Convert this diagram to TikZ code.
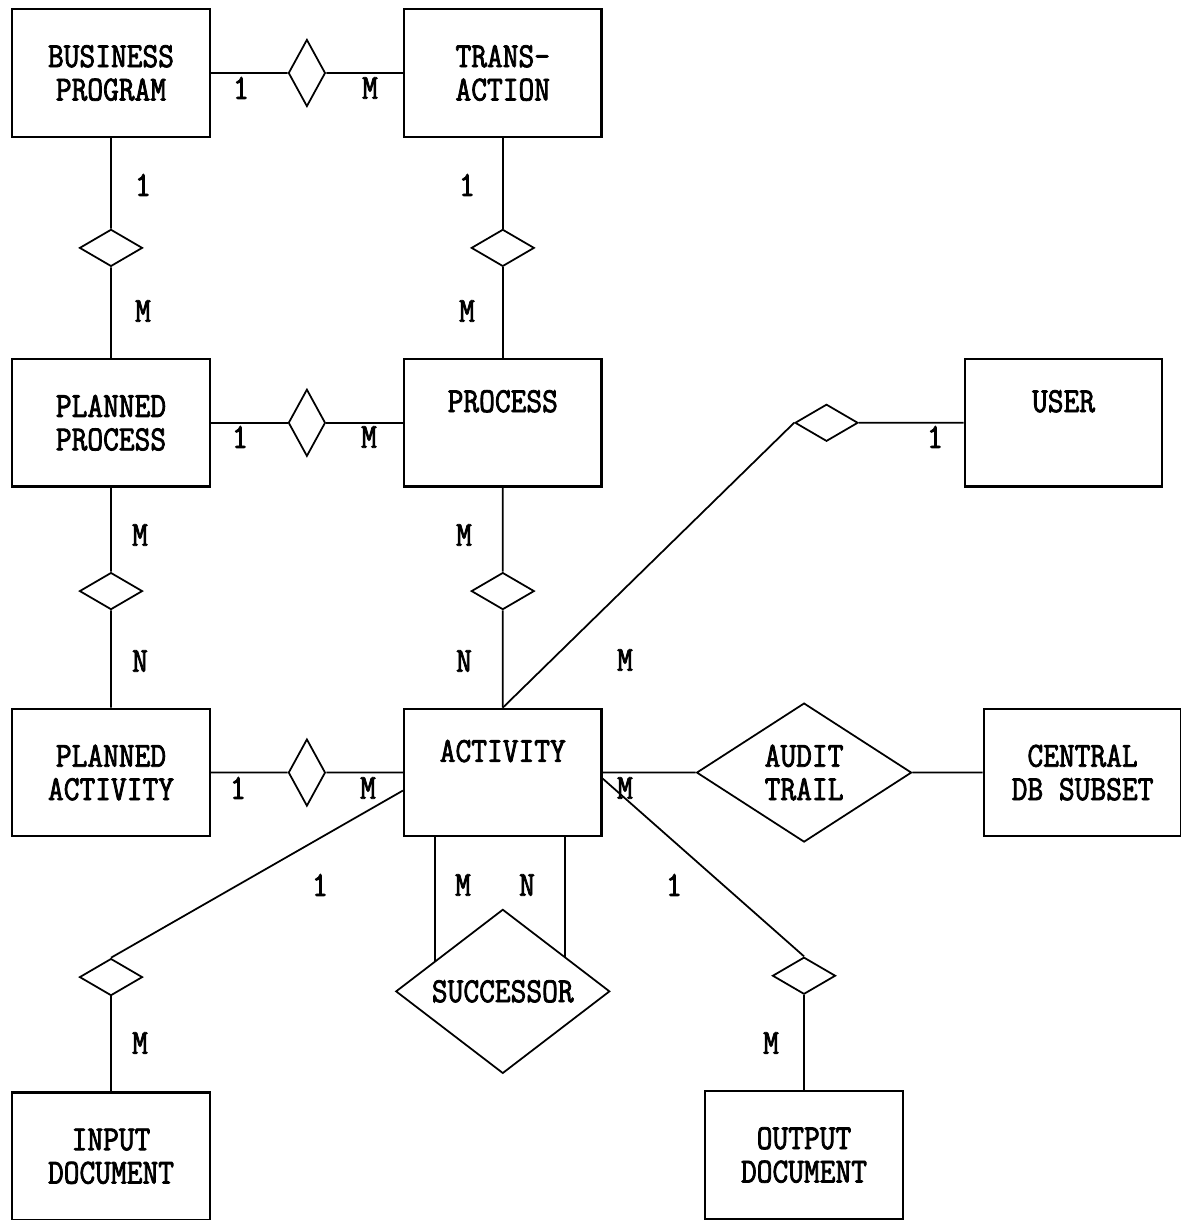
\documentclass[tikz,border=0pt]{standalone}
\usepackage{fontspec}
\newfontfamily\typefont[FakeStretch=0.87, FakeBold=2.2]{Latin Modern Mono}
\usetikzlibrary{positioning,shapes.geometric,calc}

\begin{document}
\begin{tikzpicture}[%
		line width=1pt,
		node distance=4.4cm,
		entity/.style={%
			draw,
			line width=1.3pt,
			minimum width=3.95cm,
			minimum height=2.55cm,
			align=center,
			font=\typefont\fontsize{20}{19}\selectfont
		},
		rel/.style={%
			draw,
			diamond,
			inner sep=0pt,
			align=center,
			font=\typefont\fontsize{20}{19}\selectfont
		},
		relh/.style={rel, minimum width=0.74cm, minimum height=1.34cm},
		relv/.style={rel, minimum width=1.26cm, minimum height=0.74cm},
		card/.style={font=\typefont\fontsize{20}{19}\selectfont}
		]
		\useasboundingbox (0,0) rectangle (23.6,-24.4);

		\node[entity] (bp) at (2.22,-1.46)                    {BUSINESS\\PROGRAM};
		\node[entity] (tr) [right=3.84cm of bp]               {TRANS-\\ACTION};
		\node[entity] (pp) [below=of bp]                      {PLANNED\\PROCESS};
		\node[entity] (pr) [below=of tr]                      {PROCESS\\\strut};
		\node[entity] (user) [right=7.22cm of pr]             {USER\\\strut};
		\node[entity] (pa) [below=of pp]                      {PLANNED\\ACTIVITY};
		\node[entity] (act) [below=of pr]                     {ACTIVITY\\\strut};
		\node[entity] (cdb) [right=7.6cm of act]              {CENTRAL\\DB SUBSET};
		\node[entity] (in) [below=5.08cm of pa]               {INPUT\\DOCUMENT};
		\node[entity] (out) at (16.08,-23.1)                  {OUTPUT\\DOCUMENT};

		% relationships
		\node[relh] (r1) at ($(bp.east)!0.5!(tr.west)$)       {};
		\node[relv] (r2) at ($(bp.south)!0.5!(pp.north)$)    {};
		\node[relv] (r3) at ($(tr.south)!0.5!(pr.north)$)    {};
		\node[relh] (r4) at ($(pp.east)!0.5!(pr.west)$)       {};
		\node[relv] (r5) at ($(pp.south)!0.47!(pa.north)$)   {};
		\node[relv] (r6) at ($(pr.south)!0.47!(act.north)$)  {};
		\node[relh] (r7) at ($(pa.east)!0.5!(act.west)$)      {};
		\node[relv] (ru) at ($(pr.east)!0.62!(user.west)$)    {};
		\node[rel, minimum width=4.3cm, minimum height=2.78cm] (audit) at ($(act.east)!0.53!(cdb.west)$) {AUDIT\\TRAIL};
		\node[rel, minimum width=4.28cm, minimum height=2.84cm] (succ) [below=1.42cm of act] {SUCCESSOR};
		\node[relv] (rin) [above=1.9cm of in]                 {};
		\node[relv] (rout) [above=1.9cm of out]               {};

		\coordinate (sl) at ($(succ.west)!0.37!(succ.north)$);
		\coordinate (sr) at ($(succ.east)!0.42!(succ.north)$);

		\path (bp) edge (r1)
		(r1) edge (tr)
		(bp) edge (r2)
		(r2) edge (pp)
		(tr) edge (r3)
		(r3) edge (pr)
		(pp) edge (r4)
		(r4) edge (pr)
		(pp) edge (r5)
		(r5) edge (pa)
		(pr) edge (r6)
		(r6) edge (act)
		(pa) edge (r7)
		(r7) edge (act)
		(act) edge (audit)
		(audit) edge (cdb)
		(ru) edge (user)
		(rin) edge (in)
		(rout) edge (out);

		\draw (act.north) -- (ru.west);
		\draw ([yshift=-0.36cm]act.west) -- (rin.north);
		\draw ([yshift=-0.12cm]act.east) -- (rout.north);
		\draw (act.south -| sl) -- (sl);
		\draw (act.south -| sr) -- (sr);

		% cardinalities
		\foreach \lbl/\x/\y [count=\i] in {%
			1/4.82/-1.76, M/7.4/-1.76,
			1/2.86/-3.7, M/2.86/-6.22,
			1/9.34/-3.7, M/9.34/-6.22,
			1/4.8/-8.74, M/7.38/-8.74,
			1/18.7/-8.74, M/12.5/-13.2,
			M/2.8/-10.7, N/2.8/-13.22,
			M/9.28/-10.7, N/9.28/-13.22,
			1/4.76/-15.76, M/7.36/-15.76,
			M/12.5/-15.76, 1/6.4/-17.7,
			M/9.26/-17.7, N/10.54/-17.7,
			1/13.48/-17.7, M/2.8/-20.86,
			M/15.42/-20.86}
			\node[card] (c\i) at (\x,\y) {\lbl};
		\end{tikzpicture}
\end{document}
